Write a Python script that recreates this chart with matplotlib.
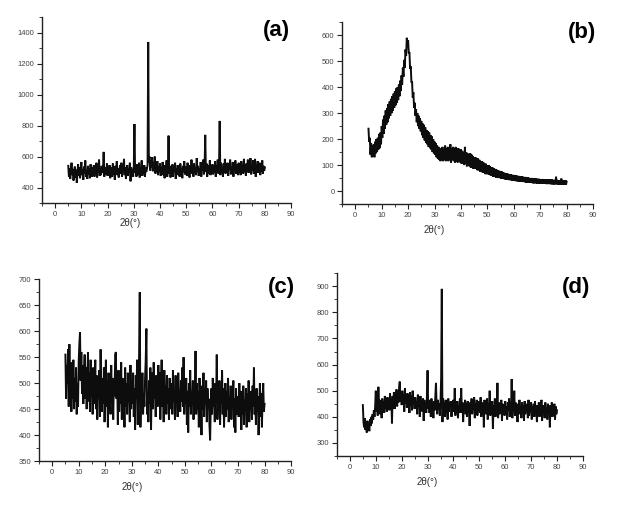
import numpy as np
import matplotlib
matplotlib.use("Agg")
import matplotlib.pyplot as plt
from matplotlib.ticker import MultipleLocator

# 2-theta grid: 5 to 80 deg, step 0.25 deg
theta_start = 5.0
theta_step = 0.25

int_a = [
    540, 470, 525, 455, 510, 560, 480, 520, 445, 500, 535, 465, 515, 430, 495, 550, 475, 530, 460, 505,
    565, 480, 515, 450, 535, 490, 575, 470, 510, 455, 540, 485, 520, 460, 550, 495, 470, 530, 485, 545,
    470, 525, 490, 560, 465, 515, 500, 580, 475, 520, 480, 540, 495, 510, 630, 470, 530, 505, 485, 555,
    475, 520, 490, 545, 460, 530, 500, 470, 555, 485, 515, 450, 540, 495, 570, 480, 525, 465, 510, 545,
    490, 560, 470, 520, 505, 585, 480, 530, 455, 515, 545, 475, 525, 500, 560, 440, 530, 490, 515, 470,
    540, 810, 495, 520, 470, 550, 500, 480, 560, 465, 525, 505, 575, 475, 510, 490, 545, 470, 530, 500,
    520, 545, 1340, 560, 600, 510, 575, 530, 595, 505, 560, 520, 600, 490, 545, 515, 570, 480, 535, 500,
    555, 475, 530, 495, 565, 480, 520, 460, 545, 500, 575, 470, 515, 735, 490, 540, 465, 525, 500, 550,
    470, 530, 505, 560, 455, 520, 490, 545, 480, 510, 470, 555, 495, 525, 460, 540, 500, 570, 485, 515,
    535, 475, 560, 500, 520, 465, 545, 490, 580, 505, 530, 470, 555, 495, 515, 480, 590, 500, 540, 475,
    525, 490, 565, 470, 545, 510, 580, 485, 530, 740, 500, 555, 470, 520, 545, 490, 575, 480, 535, 505,
    550, 485, 525, 495, 570, 470, 540, 510, 580, 490, 525, 830, 480, 560, 505, 530, 470, 555, 500, 585,
    490, 535, 505, 560, 475, 545, 515, 580, 485, 530, 500, 565, 470, 540, 510, 575, 490, 525, 550, 480,
    560, 500, 535, 480, 570, 510, 545, 490, 585, 505, 530, 475, 555, 515, 580, 495, 540, 500, 590, 485,
    550, 510, 575, 490, 530, 585, 470, 545, 515, 570, 495, 535, 560, 480, 550, 505, 575, 490, 540, 510,
    530,
]

int_b = [
    240, 190, 205, 140, 185, 130, 175, 135, 180, 130, 190, 145, 200, 150, 205, 160, 220, 165, 225, 180,
    250, 205, 275, 220, 290, 240, 310, 255, 320, 265, 335, 280, 345, 290, 355, 300, 365, 310, 375, 320,
    385, 330, 395, 340, 400, 350, 410, 365, 425, 385, 445, 410, 475, 440, 505, 475, 545, 520, 590, 555,
    580, 530, 535, 470, 480, 420, 420, 360, 380, 320, 340, 290, 315, 265, 300, 250, 290, 240, 280, 230,
    270, 215, 260, 205, 255, 195, 245, 185, 235, 180, 230, 170, 225, 165, 215, 160, 210, 150, 200, 145,
    190, 140, 185, 130, 175, 125, 170, 120, 165, 115, 165, 120, 170, 115, 160, 120, 175, 115, 165, 120,
    170, 115, 165, 120, 180, 110, 165, 120, 170, 115, 165, 110, 170, 115, 160, 110, 165, 115, 160, 110,
    160, 105, 155, 110, 150, 100, 170, 105, 150, 95, 145, 100, 140, 95, 145, 90, 140, 90, 135, 85,
    130, 85, 130, 85, 125, 80, 125, 80, 120, 75, 115, 75, 115, 70, 110, 70, 105, 65, 105, 65,
    100, 65, 100, 62, 95, 60, 92, 58, 90, 55, 88, 55, 85, 52, 82, 52, 80, 50, 78, 50,
    75, 48, 75, 47, 72, 46, 70, 45, 68, 44, 68, 43, 66, 42, 64, 42, 64, 40, 62, 40,
    62, 40, 60, 38, 60, 38, 58, 37, 58, 36, 56, 36, 56, 35, 55, 35, 54, 34, 54, 33,
    52, 33, 52, 32, 50, 32, 50, 31, 50, 30, 48, 30, 48, 30, 48, 29, 47, 29, 47, 29,
    46, 28, 46, 28, 46, 28, 45, 28, 45, 27, 45, 27, 44, 27, 44, 27, 44, 26, 44, 26,
    43, 26, 43, 26, 55, 26, 43, 26, 42, 25, 42, 25, 48, 25, 42, 25, 42, 24, 42, 25,
    36,
]

int_c = [
    555, 470, 535, 500, 565, 455, 575, 480, 540, 445, 520, 470, 545, 450, 510, 465, 530, 440, 500, 455,
    540, 575, 598, 505, 560, 480, 535, 460, 515, 555, 470, 530, 450, 510, 560, 465, 520, 445, 545, 475,
    505, 440, 530, 460, 490, 545, 450, 515, 430, 500, 470, 525, 435, 565, 480, 445, 510, 460, 530, 425,
    495, 545, 455, 505, 415, 520, 470, 490, 440, 535, 460, 510, 430, 500, 475, 555, 560, 470, 505, 420,
    525, 445, 495, 460, 540, 430, 510, 470, 485, 415, 530, 455, 500, 440, 520, 465, 480, 425, 535, 450,
    505, 460, 520, 435, 490, 410, 515, 470, 545, 420, 495, 555, 675, 415, 500, 460, 520, 440, 480, 455,
    510, 545, 605, 440, 480, 425, 505, 460, 530, 410, 495, 520, 450, 540, 470, 500, 435, 515, 480, 455,
    535, 465, 520, 430, 500, 545, 455, 505, 425, 525, 470, 495, 440, 515, 460, 490, 430, 510, 475, 450,
    500, 440, 525, 465, 485, 430, 515, 460, 495, 435, 520, 470, 480, 445, 505, 465, 530, 455, 550, 440,
    495, 460, 510, 420, 485, 405, 500, 455, 525, 440, 480, 465, 505, 430, 490, 460, 562, 440, 500, 450,
    485, 415, 510, 460, 475, 400, 495, 450, 520, 435, 480, 465, 505, 425, 490, 455, 470, 420, 390, 460,
    490, 440, 510, 455, 480, 425, 500, 460, 555, 430, 485, 445, 505, 420, 475, 460, 525, 440, 490, 415,
    470, 500, 435, 485, 450, 510, 425, 475, 445, 495, 430, 480, 455, 505, 415, 470, 405, 490, 440, 465,
    475, 435, 500, 450, 485, 410, 470, 440, 495, 420, 465, 455, 490, 415, 480, 445, 505, 425, 470, 450,
    485, 430, 495, 455, 530, 440, 470, 420, 490, 445, 475, 400, 460, 500, 435, 480, 415, 470, 500, 445,
    460,
]

int_d = [
    445, 380, 360, 395, 350, 375, 340, 385, 355, 370, 345, 390, 365, 400, 375, 410, 390, 425, 400, 440,
    500, 420, 455, 405, 515, 430, 465, 410, 450, 395, 470, 425, 460, 415, 480, 430, 455, 420, 475, 435,
    460, 425, 490, 440, 470, 375, 480, 445, 495, 430, 470, 450, 505, 440, 485, 455, 510, 535, 460, 490,
    445, 500, 460, 485, 420, 510, 450, 475, 435, 490, 455, 470, 415, 495, 445, 480, 425, 500, 450, 470,
    430, 475, 445, 460, 410, 485, 440, 465, 400, 480, 435, 455, 420, 470, 385, 465, 430, 450, 415, 475,
    578, 430, 465, 415, 455, 400, 470, 435, 450, 395, 460, 425, 480, 530, 440, 410, 465, 430, 450, 405,
    455, 550, 890, 380, 470, 425, 455, 400, 465, 430, 445, 390, 470, 420, 455, 435, 460, 400, 450, 425,
    465, 420, 510, 405, 450, 430, 460, 395, 445, 425, 470, 415, 510, 420, 455, 380, 445, 430, 465, 410,
    450, 400, 460, 425, 440, 365, 455, 420, 470, 410, 445, 430, 475, 395, 450, 420, 465, 405, 440, 425,
    460, 415, 475, 400, 445, 430, 455, 360, 465, 420, 440, 410, 470, 390, 450, 425, 500, 405, 445, 420,
    460, 355, 445, 415, 470, 400, 450, 425, 530, 395, 455, 410, 440, 430, 465, 385, 450, 420, 445, 405,
    460, 415, 440, 390, 455, 425, 470, 400, 445, 420, 545, 395, 450, 430, 500, 405, 455, 415, 440, 380,
    450, 410, 465, 420, 440, 395, 455, 415, 445, 385, 460, 410, 440, 425, 450, 395, 465, 405, 435, 420,
    455, 390, 440, 410, 450, 400, 460, 420, 435, 380, 445, 415, 455, 400, 440, 410, 465, 385, 445, 420,
    440, 395, 455, 410, 435, 390, 450, 415, 440, 360, 445, 405, 455, 400, 435, 415, 450, 390, 440, 410,
    425,
]

panel_labels = ["(a)", "(b)", "(c)", "(d)"]
xlabel_text = "2\u03b8(\u00b0)"
x_ticks = [0, 10, 20, 30, 40, 50, 60, 70, 80, 90]

panels = [
    dict(y=int_a, ylim=(300, 1500), yticks=[400, 600, 800, 1000, 1200, 1400], yminor=100,
         pos=[0.066, 0.598, 0.391, 0.368], lab=(0.996, 0.985), xl=(130, 223)),
    dict(y=int_b, ylim=(-50, 650), yticks=[0, 100, 200, 300, 400, 500, 600], yminor=50,
         pos=[0.537, 0.596, 0.394, 0.360], lab=(1.012, 1.0), xl=(434, 230)),
    dict(y=int_c, ylim=(350, 700), yticks=[350, 400, 450, 500, 550, 600, 650, 700], yminor=25,
         pos=[0.061, 0.087, 0.396, 0.360], lab=(1.016, 1.01), xl=(132, 487)),
    dict(y=int_d, ylim=(250, 950), yticks=[300, 400, 500, 600, 700, 800, 900], yminor=50,
         pos=[0.529, 0.097, 0.386, 0.362], lab=(1.03, 0.98), xl=(427, 482)),
]

W, H = 637, 505
fig = plt.figure(figsize=(W / 100, H / 100), dpi=100)
plt.rcParams['font.family'] = ['Liberation Sans', 'DejaVu Sans']

for p, lab in zip(panels, panel_labels):
    ax = fig.add_axes(p["pos"])
    y = np.array(p["y"], dtype=float)
    x = theta_start + theta_step * np.arange(len(y))
    ax.plot(x, y, color="#0d0d0d", lw=1.4, solid_joinstyle="miter")
    ax.set_xlim(-5, 90)
    ax.set_ylim(*p["ylim"])
    ax.set_xticks(x_ticks)
    ax.set_yticks(p["yticks"])
    ax.xaxis.set_minor_locator(MultipleLocator(5))
    ax.yaxis.set_minor_locator(MultipleLocator(p["yminor"]))
    for s in ["top", "right"]:
        ax.spines[s].set_visible(False)
    for s in ["left", "bottom"]:
        ax.spines[s].set_linewidth(1.0)
        ax.spines[s].set_color("#222222")
    ax.tick_params(which="major", direction="out", length=3.5, width=0.8,
                   labelsize=5.5, labelcolor="#444444", color="#222222", pad=2)
    ax.tick_params(which="minor", direction="out", length=2, width=0.6, color="#222222")
    ax.text(p["lab"][0], p["lab"][1], lab, transform=ax.transAxes, ha="right", va="top",
            fontsize=16, fontweight="bold", color="black", clip_on=False)
    fig.text(p["xl"][0] / W, 1 - p["xl"][1] / H, xlabel_text, ha="center", va="center",
             fontsize=7, color="#333333")

fig.savefig("out.png", dpi=100)
